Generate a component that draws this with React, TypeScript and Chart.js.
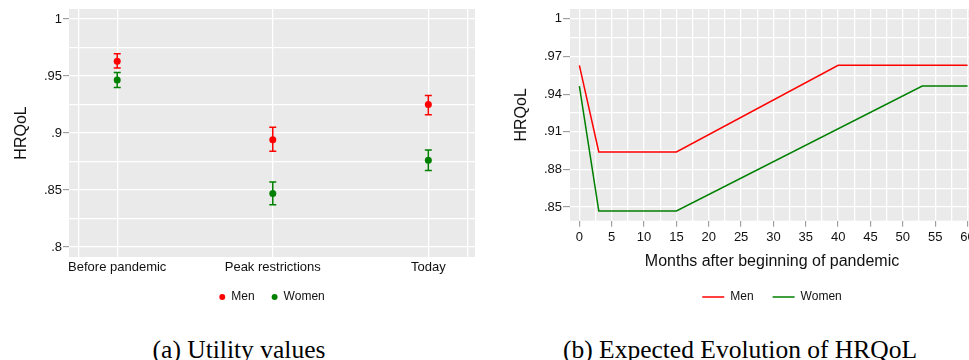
import React, { useEffect, useRef } from 'react';
import { Chart, registerables } from 'chart.js';

Chart.register(...registerables);

// ---------- data: (a) Utility values ----------
const utilityCategories = ['Before pandemic', 'Peak restrictions', 'Today'];
const utilityCategoryPositions = [0, 1, 2];
const menUtility = [0.963, 0.894, 0.925];
const menUtilityLow = [0.957, 0.884, 0.916];
const menUtilityHigh = [0.9695, 0.905, 0.933];
const womenUtility = [0.9465, 0.847, 0.876];
const womenUtilityLow = [0.94, 0.837, 0.867];
const womenUtilityHigh = [0.953, 0.857, 0.885];

const leftYGrid = [0.8, 0.825, 0.85, 0.875, 0.9, 0.925, 0.95, 0.975, 1];
const leftYTickValues = [0.8, 0.85, 0.9, 0.95, 1];
const leftYTickLabels = ['.8', '.85', '.9', '.95', '1'];
const leftXGrid = [-0.25, 0, 1, 2, 2.25];

// ---------- data: (b) Expected Evolution of HRQoL ----------
const menMonths = [0, 3, 15, 40, 60];
const menHRQoL = [0.963, 0.894, 0.894, 0.963, 0.963];
const womenMonths = [0, 3, 15, 53, 60];
const womenHRQoL = [0.9465, 0.847, 0.847, 0.9465, 0.9465];

const rightYGrid = [0.85, 0.865, 0.88, 0.895, 0.91, 0.925, 0.94, 0.955, 0.97, 0.985, 1];
const rightYTickValues = [0.85, 0.88, 0.91, 0.94, 0.97, 1];
const rightYTickLabels = ['.85', '.88', '.91', '.94', '.97', '1'];
const rightXGrid = [0, 2.5, 5, 7.5, 10, 12.5, 15, 17.5, 20, 22.5, 25, 27.5, 30, 32.5, 35, 37.5, 40, 42.5, 45, 47.5, 50, 52.5, 55, 57.5, 60];
const rightXTickValues = [0, 5, 10, 15, 20, 25, 30, 35, 40, 45, 50, 55, 60];
const rightXTickLabels = ['0', '5', '10', '15', '20', '25', '30', '35', '40', '45', '50', '55', '60'];

const seriesNames = ['Men', 'Women'];
const RED = '#ff0000';
const GREEN = '#008000';
const TEXT = '#111111';
const TICK = '#8f8f8f';
const PLOT_BG = '#eaeaea';
const FONT = 'Liberation Sans, Arial, sans-serif';

const near = (a: number, b: number) => Math.abs(a - b) < 1e-7;
const labelFor = (values: number[], labels: string[], v: number) => {
  const i = values.findIndex((t) => near(t, v));
  return i >= 0 ? labels[i] : '';
};
const setTicks = (values: number[]) => (axis: any) => {
  axis.ticks = values.map((v) => ({ value: v }));
};

const plotBgPlugin = {
  id: 'plotBg',
  beforeDraw(chart: any) {
    const { ctx, chartArea } = chart;
    ctx.save();
    ctx.fillStyle = PLOT_BG;
    ctx.fillRect(chartArea.left, chartArea.top, chartArea.right - chartArea.left, chartArea.bottom - chartArea.top);
    ctx.restore();
  },
};

const errorBarPlugin = {
  id: 'errorBars',
  afterDatasetsDraw(chart: any) {
    const { ctx } = chart;
    const xs = chart.scales.x;
    const ys = chart.scales.y;
    chart.data.datasets.forEach((ds: any) => {
      if (!ds.errLow) return;
      ctx.save();
      ctx.strokeStyle = ds.backgroundColor;
      ctx.lineWidth = 1.5;
      ds.data.forEach((p: any, j: number) => {
        const px = xs.getPixelForValue(p.x);
        const top = ys.getPixelForValue(ds.errHigh[j]);
        const bot = ys.getPixelForValue(ds.errLow[j]);
        ctx.beginPath();
        ctx.moveTo(px, top);
        ctx.lineTo(px, bot);
        ctx.moveTo(px - 3.5, top);
        ctx.lineTo(px + 3.5, top);
        ctx.moveTo(px - 3.5, bot);
        ctx.lineTo(px + 3.5, bot);
        ctx.stroke();
      });
      ctx.restore();
    });
  },
};

function UtilityChart() {
  const ref = useRef<HTMLCanvasElement | null>(null);
  useEffect(() => {
    if (!ref.current) return;
    const chart = new Chart(ref.current, {
      type: 'scatter',
      data: {
        datasets: [
          {
            label: seriesNames[0],
            data: utilityCategoryPositions.map((x, i) => ({ x, y: menUtility[i] })),
            backgroundColor: RED,
            borderColor: RED,
            borderWidth: 0,
            pointRadius: 3.5,
            errLow: menUtilityLow,
            errHigh: menUtilityHigh,
          } as any,
          {
            label: seriesNames[1],
            data: utilityCategoryPositions.map((x, i) => ({ x, y: womenUtility[i] })),
            backgroundColor: GREEN,
            borderColor: GREEN,
            borderWidth: 0,
            pointRadius: 3.5,
            errLow: womenUtilityLow,
            errHigh: womenUtilityHigh,
          } as any,
        ],
      },
      options: {
        animation: false,
        responsive: false,
        layout: { padding: { left: 0, right: 10, top: 9, bottom: 0 } },
        plugins: {
          tooltip: { enabled: false },
          legend: {
            position: 'bottom',
            fullSize: false,
            labels: {
              usePointStyle: true,
              boxWidth: 6,
              boxHeight: 4.2,
              padding: 17,
              color: TEXT,
              font: { family: FONT, size: 12 },
            },
          },
        },
        scales: {
          x: {
            type: 'linear',
            min: -0.31,
            max: 2.3,
            afterBuildTicks: setTicks(leftXGrid),
            afterFit: (s: any) => { s.height = 17; },
            border: { display: false },
            grid: { color: '#ffffff', lineWidth: 1.3, drawTicks: false },
            ticks: {
              padding: 2.5,
              color: TEXT,
              font: { family: FONT, size: 13 },
              maxRotation: 0,
              autoSkip: false,
              callback: (v: any) => {
                const i = utilityCategoryPositions.findIndex((p) => near(p, Number(v)));
                return i >= 0 ? utilityCategories[i] : '';
              },
            },
          },
          y: {
            min: 0.7912,
            max: 1.0088,
            afterBuildTicks: setTicks(leftYGrid),
            afterFit: (s: any) => { s.width = 69; },
            border: { display: false },
            grid: {
              color: '#ffffff',
              lineWidth: 1.3,
              tickLength: 6,
              tickWidth: 1,
              tickColor: (c: any) => (leftYTickValues.some((t) => near(t, c.tick.value)) ? TICK : 'rgba(0,0,0,0)'),
            },
            title: {
              display: true,
              text: 'HRQoL',
              color: TEXT,
              font: { family: FONT, size: 16 },
              padding: { top: 12, bottom: 0 },
            },
            ticks: {
              padding: 1,
              color: TEXT,
              font: { family: FONT, size: 13 },
              autoSkip: false,
              callback: (v: any) => labelFor(leftYTickValues, leftYTickLabels, Number(v)),
            },
          },
        },
      } as any,
      plugins: [plotBgPlugin, errorBarPlugin],
    });
    return () => chart.destroy();
  }, []);
  return (
    <canvas
      ref={ref}
      width={485}
      height={313}
      style={{ position: 'absolute', left: 0, top: 0, width: 485, height: 313, display: 'block' }}
    />
  );
}

function EvolutionChart() {
  const ref = useRef<HTMLCanvasElement | null>(null);
  useEffect(() => {
    if (!ref.current) return;
    const chart = new Chart(ref.current, {
      type: 'line',
      data: {
        datasets: [
          {
            label: seriesNames[0],
            data: menMonths.map((x, i) => ({ x, y: menHRQoL[i] })),
            borderColor: RED,
            backgroundColor: RED,
            borderWidth: 1.5,
            pointRadius: 0,
            tension: 0,
          },
          {
            label: seriesNames[1],
            data: womenMonths.map((x, i) => ({ x, y: womenHRQoL[i] })),
            borderColor: GREEN,
            backgroundColor: GREEN,
            borderWidth: 1.5,
            pointRadius: 0,
            tension: 0,
          },
        ],
      },
      options: {
        animation: false,
        responsive: false,
        layout: { padding: { left: 0, right: 16, top: 9, bottom: 0 } },
        plugins: {
          tooltip: { enabled: false },
          legend: {
            position: 'bottom',
            fullSize: false,
            labels: {
              usePointStyle: true,
              pointStyle: 'line',
              pointStyleWidth: 22,
              padding: 19,
              color: TEXT,
              font: { family: FONT, size: 12 },
            },
          },
        },
        scales: {
          x: {
            type: 'linear',
            min: -1.45,
            max: 61,
            afterBuildTicks: setTicks(rightXGrid),
            afterFit: (s: any) => { s.height = 51.3; },
            border: { display: false },
            grid: {
              color: '#ffffff',
              lineWidth: 1.3,
              tickLength: 6,
              tickWidth: 1,
              tickColor: (c: any) => (rightXTickValues.some((t) => near(t, c.tick.value)) ? TICK : 'rgba(0,0,0,0)'),
            },
            title: {
              display: true,
              text: 'Months after beginning of pandemic',
              color: TEXT,
              font: { family: FONT, size: 16 },
              padding: { top: 0, bottom: 0.5 },
            },
            ticks: {
              padding: 2.5,
              color: TEXT,
              font: { family: FONT, size: 13 },
              maxRotation: 0,
              autoSkip: false,
              callback: (v: any) => labelFor(rightXTickValues, rightXTickLabels, Number(v)),
            },
          },
          y: {
            min: 0.8392,
            max: 1.0079,
            afterBuildTicks: setTicks(rightYGrid),
            afterFit: (s: any) => { s.width = 80; },
            border: { display: false },
            grid: {
              color: '#ffffff',
              lineWidth: 1.3,
              tickLength: 7,
              tickWidth: 1,
              tickColor: (c: any) => (rightYTickValues.some((t) => near(t, c.tick.value)) ? TICK : 'rgba(0,0,0,0)'),
            },
            title: {
              display: true,
              text: 'HRQoL',
              color: TEXT,
              font: { family: FONT, size: 16 },
              padding: { top: 22, bottom: 0 },
            },
            ticks: {
              padding: 1,
              color: TEXT,
              font: { family: FONT, size: 13 },
              autoSkip: false,
              callback: (v: any) => labelFor(rightYTickValues, rightYTickLabels, Number(v)),
            },
          },
        },
      } as any,
      plugins: [plotBgPlugin],
    });
    return () => chart.destroy();
  }, []);
  return (
    <canvas
      ref={ref}
      width={500}
      height={313}
      style={{ position: 'absolute', left: 490, top: 0, width: 500, height: 313, display: 'block' }}
    />
  );
}

const captionStyle: React.CSSProperties = {
  position: 'absolute',
  top: 337,
  width: 400,
  textAlign: 'center',
  fontFamily: '"Liberation Serif", "Times New Roman", serif',
  fontSize: 25.5,
  lineHeight: 1,
  color: '#000',
  whiteSpace: 'nowrap',
};

export default function App() {
  return (
    <div
      style={{
        position: 'absolute',
        left: 0,
        top: 0,
        width: 969,
        height: 360,
        overflow: 'hidden',
        background: '#ffffff',
      }}
    >
      <UtilityChart />
      <EvolutionChart />
      <div style={{ ...captionStyle, left: 239 - 200 }}>(a) Utility values</div>
      <div style={{ ...captionStyle, left: 740 - 200 }}>(b) Expected Evolution of HRQoL</div>
    </div>
  );
}
